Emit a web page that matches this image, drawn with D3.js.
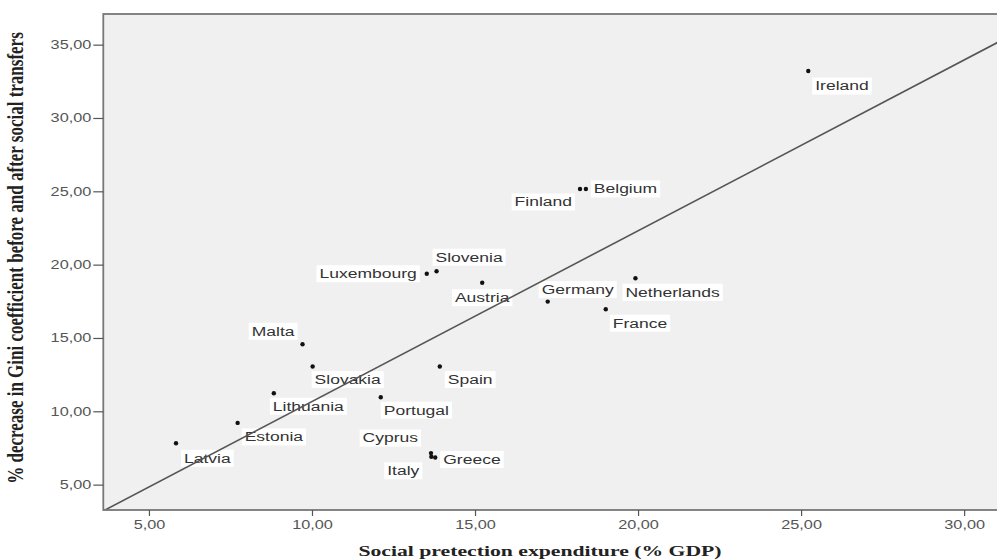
<!DOCTYPE html>
<html>
<head>
<meta charset="utf-8">
<script src="https://cdn.jsdelivr.net/npm/d3@7"></script>
<style>
  html, body { margin: 0; padding: 0; background: #fff; }
  svg { display: block; }
</style>
</head>
<body>
<svg id="chart" width="997" height="560"></svg>
<script>
// Social protection expenditure vs. redistributive effect, EU countries
const countries = ["Ireland", "Finland", "Belgium", "Luxembourg", "Slovenia", "Austria",
  "Germany", "Netherlands", "France", "Malta", "Slovakia", "Spain", "Lithuania",
  "Portugal", "Estonia", "Latvia", "Cyprus", "Italy", "Greece"];
const expenditure = [25.22, 18.22, 18.40, 13.52, 13.82, 15.22,
  17.23, 19.92, 19.01, 9.71, 10.02, 13.92, 8.83,
  12.11, 7.72, 5.83, 13.65, 13.66, 13.78];
const giniDecrease = [33.20, 25.16, 25.16, 19.38, 19.55, 18.77,
  17.48, 19.07, 16.96, 14.57, 13.05, 13.05, 11.23,
  10.96, 9.21, 7.82, 7.15, 6.90, 6.85];
const xTicks = [5, 10, 15, 20, 25, 30];
const yTicks = [5, 10, 15, 20, 25, 30, 35];
const xTitle = "Social pretection expenditure (% GDP)";
const yTitle = "% decrease in Gini coefficient before and after social transfers";

// Label placement around each marker: dx = anchor offset, dy = vertical centre offset
const labelLayout = {
  Ireland:     { dx: 7,   dy: 15,  anchor: "start" },
  Finland:     { dx: -8,  dy: 13,  anchor: "end" },
  Belgium:     { dx: 8,   dy: 0,   anchor: "start" },
  Luxembourg:  { dx: -10, dy: 0,   anchor: "end" },
  Slovenia:    { dx: -1,  dy: -14, anchor: "start" },
  Austria:     { dx: 0,   dy: 15,  anchor: "middle" },
  Germany:     { dx: -6,  dy: -12, anchor: "start" },
  Netherlands: { dx: -10, dy: 14,  anchor: "start" },
  France:      { dx: 7,   dy: 14,  anchor: "start" },
  Malta:       { dx: -8,  dy: -13, anchor: "end" },
  Slovakia:    { dx: 2,   dy: 13,  anchor: "start" },
  Spain:       { dx: 8,   dy: 13,  anchor: "start" },
  Lithuania:   { dx: -1,  dy: 13,  anchor: "start" },
  Portugal:    { dx: 3,   dy: 13,  anchor: "start" },
  Estonia:     { dx: 7,   dy: 14,  anchor: "start" },
  Latvia:      { dx: 8,   dy: 15,  anchor: "start" },
  Cyprus:      { dx: -13, dy: -15, anchor: "end" },
  Italy:       { dx: -12, dy: 14,  anchor: "end" },
  Greece:      { dx: 8,   dy: 2,   anchor: "start" }
};

const svg = d3.select("#chart");
const plot = { left: 103.3, top: 14, right: 1000, bottom: 510 };

const x = d3.scaleLinear().domain([3.6, 31.1]).range([plot.left, plot.right]);
const y = d3.scaleLinear().domain([3.27, 37.09]).range([plot.bottom, plot.top]);

const locale = d3.formatLocale({ decimal: ",", thousands: ".", grouping: [3], currency: ["", "€"] });
const fmt = locale.format(".2f");

// Glyphs in this chart are drawn wide; stretch text horizontally
function stretch(sel, k) {
  sel.each(function () {
    const w = this.getComputedTextLength();
    this.setAttribute("textLength", (w * k).toFixed(1));
    this.setAttribute("lengthAdjust", "spacingAndGlyphs");
  });
}

// plot background
svg.append("rect")
  .attr("x", plot.left).attr("y", plot.top)
  .attr("width", plot.right - plot.left).attr("height", plot.bottom - plot.top)
  .attr("fill", "#f0f0f0");

svg.append("defs").append("clipPath").attr("id", "plotClip")
  .append("rect")
  .attr("x", plot.left).attr("y", plot.top)
  .attr("width", plot.right - plot.left).attr("height", plot.bottom - plot.top);

// point labels with white boxes
const pts = countries.map((c, i) => ({ name: c, x: expenditure[i], y: giniDecrease[i] }));
const labelG = svg.append("g").attr("class", "labels");
pts.forEach(p => {
  const L = labelLayout[p.name];
  const g = labelG.append("g");
  const rect = g.append("rect").attr("fill", "#fff");
  const t = g.append("text")
    .attr("x", x(p.x) + L.dx)
    .attr("y", y(p.y) + L.dy)
    .attr("dy", "0.35em")
    .attr("text-anchor", L.anchor)
    .attr("font-family", "Arial, 'Liberation Sans', sans-serif")
    .attr("font-size", 12.5)
    .attr("fill", "#333")
    .text(p.name);
  const k = 1.4;
  const w = t.node().getComputedTextLength() * k;
  t.attr("textLength", w.toFixed(1)).attr("lengthAdjust", "spacingAndGlyphs");
  const ax = x(p.x) + L.dx;
  const x0 = L.anchor === "start" ? ax : L.anchor === "end" ? ax - w : ax - w / 2;
  rect.attr("x", x0 - 3).attr("y", y(p.y) + L.dy - 8.5)
    .attr("width", w + 6).attr("height", 17);
});

// least-squares fit line
const mx = d3.mean(expenditure), my = d3.mean(giniDecrease);
const sxy = d3.sum(expenditure, (v, i) => (v - mx) * (giniDecrease[i] - my));
const sxx = d3.sum(expenditure, v => (v - mx) * (v - mx));
const slope = sxy / sxx, intercept = my - slope * mx;
const [d0, d1] = x.domain();
svg.append("line")
  .attr("clip-path", "url(#plotClip)")
  .attr("x1", x(d0)).attr("y1", y(intercept + slope * d0))
  .attr("x2", x(d1)).attr("y2", y(intercept + slope * d1))
  .attr("stroke", "#555").attr("stroke-width", 1.6);

// markers
svg.append("g").selectAll("circle").data(pts).join("circle")
  .attr("cx", d => x(d.x)).attr("cy", d => y(d.y)).attr("r", 2.2)
  .attr("fill", "#111");

// frame
svg.append("rect")
  .attr("x", plot.left).attr("y", plot.top)
  .attr("width", plot.right - plot.left).attr("height", plot.bottom - plot.top)
  .attr("fill", "none").attr("stroke", "#777").attr("stroke-width", 1.8);

// axes
const xAxis = svg.append("g").attr("transform", `translate(0,${plot.bottom})`)
  .call(d3.axisBottom(x).tickValues(xTicks).tickFormat(fmt).tickSize(6).tickSizeOuter(0));
const yAxis = svg.append("g").attr("transform", `translate(${plot.left},0)`)
  .call(d3.axisLeft(y).tickValues(yTicks).tickFormat(fmt).tickSize(10).tickSizeOuter(0));
[xAxis, yAxis].forEach(a => {
  a.select(".domain").remove();
  a.selectAll(".tick line").attr("stroke", "#555").attr("stroke-width", 1.2);
  a.selectAll(".tick text")
    .attr("font-family", "Arial, 'Liberation Sans', sans-serif")
    .attr("font-size", 12.5).attr("fill", "#555");
});
xAxis.selectAll(".tick text").attr("y", 10);
yAxis.selectAll(".tick text").attr("x", -12);
stretch(xAxis.selectAll(".tick text"), 1.3);
stretch(yAxis.selectAll(".tick text"), 1.3);

// axis titles
const xt = svg.append("text")
  .attr("x", 540).attr("y", 556)
  .attr("text-anchor", "middle")
  .attr("font-family", "'Liberation Serif', 'Times New Roman', serif")
  .attr("font-weight", "bold").attr("font-size", 15.5).attr("fill", "#222")
  .text(xTitle);
stretch(xt, 1.4);

svg.append("text")
  .attr("transform", "translate(23,258) scale(1.3,1) rotate(-90)")
  .attr("text-anchor", "middle")
  .attr("font-family", "'Liberation Serif', 'Times New Roman', serif")
  .attr("font-weight", "bold").attr("font-size", 17).attr("fill", "#222")
  .text(yTitle);
</script>
</body>
</html>
